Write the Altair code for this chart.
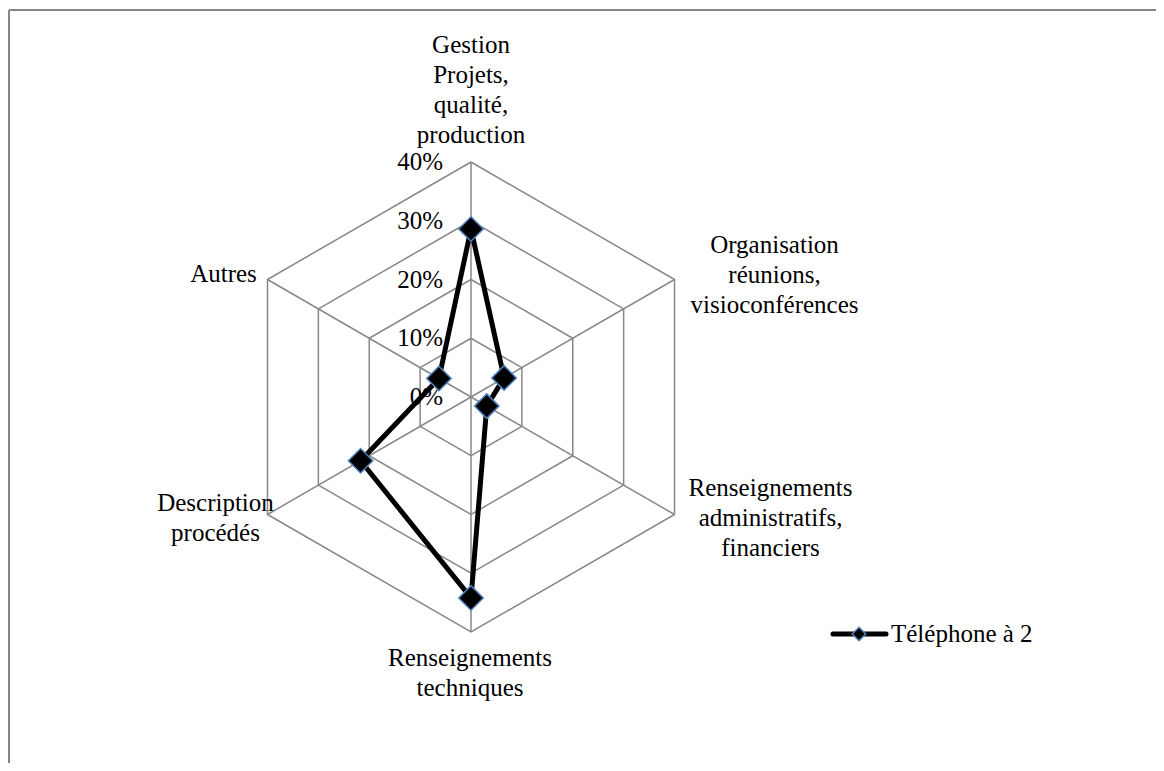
import math
import pandas as pd
import altair as alt

# ---------------- data ----------------
categories = [
    "Gestion Projets, qualité, production",
    "Organisation réunions, visioconférences",
    "Renseignements administratifs, financiers",
    "Renseignements techniques",
    "Description procédés",
    "Autres",
]
category_labels = [
    "Gestion\nProjets,\nqualité,\nproduction",
    "Organisation\nréunions,\nvisioconférences",
    "Renseignements\nadministratifs,\nfinanciers",
    "Renseignements\ntechniques",
    "Description\nprocédés",
    "Autres",
]
values = [28.6, 6.5, 3.1, 34.2, 21.7, 6.3]  # percent
series_name = "Téléphone à 2"
ring_levels = [10, 20, 30, 40]
tick_values = [0, 10, 20, 30, 40]
tick_labels = ["0%", "10%", "20%", "30%", "40%"]
r_max = 40

# ---------------- layout / style ----------------
W, H = 1148, 755
CX, CY = 463, 389          # centre of radar in plot pixels
PPU = 235 / r_max          # pixels per percent
FONT = "Liberation Serif"
FS = 25
GRID = "#888888"
MARKER_STROKE = "#4F81BD"

# label placement (align, dx, dy of first baseline) per category
label_style = [
    ("center", 0, -109),
    ("center", 100, -27),
    ("center", 96, -19),
    ("center", -1, 34),
    ("center", -52, -4),
    ("center", -44, 2),
]

n = len(categories)
angles = [math.pi / 2 - i * 2 * math.pi / n for i in range(n)]

# series polygon (closed)
rows = []
for k in range(n + 1):
    i = k % n
    rows.append({"cat": categories[i], "v": values[i], "order": k,
                 "x": values[i] * math.cos(angles[i]),
                 "y": values[i] * math.sin(angles[i])})
series_df = pd.DataFrame(rows)
points_df = series_df[series_df["order"] < n]

# rings
ring_rows = []
for lv in ring_levels:
    for k in range(n + 1):
        i = k % n
        ring_rows.append({"level": lv, "order": k,
                          "x": lv * math.cos(angles[i]),
                          "y": lv * math.sin(angles[i])})
ring_df = pd.DataFrame(ring_rows)

# spokes
spoke_df = pd.DataFrame({
    "x": [0.0] * n, "y": [0.0] * n,
    "x2": [r_max * math.cos(a) for a in angles],
    "y2": [r_max * math.sin(a) for a in angles],
})

tick_df = pd.DataFrame({"x": [0.0] * len(tick_values), "y": tick_values, "t": tick_labels})

xs = alt.Scale(domain=[-CX / PPU, (W - CX) / PPU], nice=False, zero=False)
ys = alt.Scale(domain=[-(H - CY) / PPU, CY / PPU], nice=False, zero=False)
X = lambda f: alt.X(f, type="quantitative", scale=xs, axis=None)
Y = lambda f: alt.Y(f, type="quantitative", scale=ys, axis=None)

rings = alt.Chart(ring_df).mark_line(color=GRID, strokeWidth=1.5).encode(
    x=X("x"), y=Y("y"), detail="level:N", order="order:Q")

spokes = alt.Chart(spoke_df).mark_rule(color=GRID, strokeWidth=1.5).encode(
    x=X("x"), y=Y("y"), x2="x2:Q", y2="y2:Q")

ticks = alt.Chart(tick_df).mark_text(
    font=FONT, fontSize=FS, color="black", align="right", baseline="middle", dx=-28
).encode(x=X("x"), y=Y("y"), text="t:N")

label_layers = []
for i in range(n):
    al, dx, dy = label_style[i]
    ldf = pd.DataFrame({
        "x": [r_max * math.cos(angles[i])],
        "y": [r_max * math.sin(angles[i])],
        "t": [category_labels[i]],
    })
    label_layers.append(
        alt.Chart(ldf).mark_text(
            font=FONT, fontSize=FS, color="black", align=al, baseline="alphabetic",
            dx=dx, dy=dy, lineBreak="\n", lineHeight=30
        ).encode(x=X("x"), y=Y("y"), text="t:N")
    )

line = alt.Chart(series_df).mark_line(color="black", strokeWidth=5, strokeJoin="round").encode(
    x=X("x"), y=Y("y"), order="order:Q")

markers = alt.Chart(points_df).mark_point(
    shape="diamond", filled=True, fill="black", stroke=MARKER_STROKE,
    strokeWidth=1.5, size=600, opacity=1
).encode(x=X("x"), y=Y("y"))

# frame
frame_df = pd.DataFrame({"a": [0]})
frame_top = alt.Chart(frame_df).mark_rule(color="#868686", strokeWidth=2).encode(
    x=alt.value(1), x2=alt.value(W), y=alt.value(2))
frame_left = alt.Chart(frame_df).mark_rule(color="#868686", strokeWidth=2).encode(
    x=alt.value(1), y=alt.value(2), y2=alt.value(H))

# legend
leg_df = pd.DataFrame({"name": [series_name]})
leg_line = alt.Chart(leg_df).mark_rule(color="black", strokeWidth=5, strokeCap="round").encode(
    x=alt.value(825), x2=alt.value(878), y=alt.value(626))
leg_marker = alt.Chart(leg_df).mark_point(
    shape="diamond", filled=True, fill="black", stroke=MARKER_STROKE,
    strokeWidth=1.5, size=180, opacity=1
).encode(x=alt.value(851), y=alt.value(626))
leg_text = alt.Chart(leg_df).mark_text(
    font=FONT, fontSize=FS, color="black", align="left", baseline="middle"
).encode(x=alt.value(883), y=alt.value(626), text="name:N")

chart = alt.layer(
    frame_top, frame_left, rings, spokes, ticks, *label_layers, line, markers,
    leg_line, leg_marker, leg_text
).properties(
    width=W, height=H, autosize=alt.AutoSizeParams(type="none"), padding=0
).configure_view(stroke=None)

chart.save("out.html", embed_options={"renderer": "svg", "actions": False})
